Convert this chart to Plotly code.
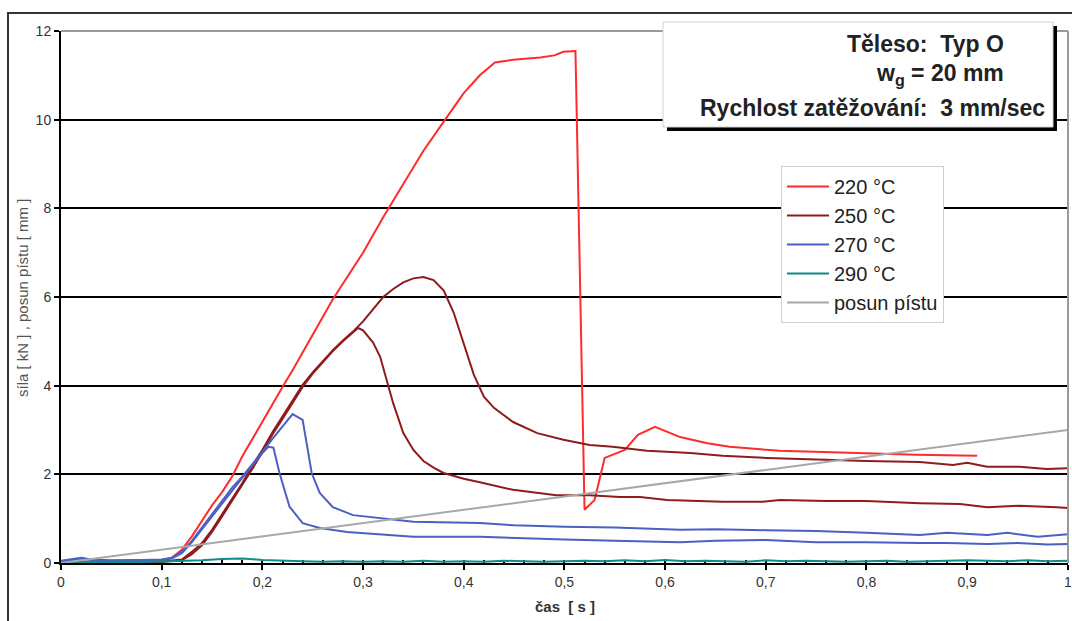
import plotly.graph_objects as go

W, H = 1072, 621
L, R, T, B = 61, 1068, 31, 563

# ---- data ----
x_ticks = [0, 0.1, 0.2, 0.3, 0.4, 0.5, 0.6, 0.7, 0.8, 0.9, 1.0]
x_ticklabels = ["0", "0,1", "0,2", "0,3", "0,4", "0,5", "0,6", "0,7", "0,8", "0,9", "1"]
y_ticks = [0, 2, 4, 6, 8, 10, 12]

t220 = [0, 0.02, 0.04, 0.06, 0.08, 0.10, 0.11, 0.12, 0.13, 0.14, 0.15, 0.16, 0.17, 0.18, 0.19, 0.20,
        0.21, 0.22, 0.23, 0.24, 0.25, 0.26, 0.27, 0.28, 0.29, 0.30, 0.32, 0.34, 0.36, 0.38, 0.40,
        0.416, 0.431, 0.449, 0.476, 0.49, 0.499, 0.511, 0.520, 0.530, 0.540, 0.560, 0.573, 0.590,
        0.615, 0.642, 0.664, 0.714, 0.76, 0.80, 0.85, 0.91]
f220 = [0.02, 0.03, 0.03, 0.04, 0.04, 0.06, 0.12, 0.3, 0.6, 0.95, 1.3, 1.6, 1.95, 2.4, 2.8, 3.2,
        3.6, 3.97, 4.35, 4.75, 5.15, 5.55, 5.95, 6.3, 6.65, 7.0, 7.8, 8.55, 9.3, 9.95, 10.6,
        11.0, 11.29, 11.35, 11.4, 11.45, 11.53, 11.55, 1.2, 1.42, 2.37, 2.55, 2.89, 3.07,
        2.84, 2.7, 2.62, 2.53, 2.5, 2.47, 2.44, 2.42]

t250a = [0, 0.05, 0.10, 0.12, 0.13, 0.14, 0.15, 0.16, 0.17, 0.18, 0.19, 0.20, 0.21, 0.22, 0.23, 0.24,
         0.25, 0.26, 0.27, 0.28, 0.29, 0.30, 0.31, 0.32, 0.33, 0.34, 0.35, 0.36, 0.37, 0.38, 0.39,
         0.40, 0.41, 0.42, 0.43, 0.449, 0.473, 0.499, 0.525, 0.548, 0.582, 0.625, 0.657, 0.701,
         0.75, 0.80, 0.853, 0.886, 0.90, 0.92, 0.952, 0.979, 1.0]
f250a = [0.02, 0.02, 0.03, 0.08, 0.25, 0.45, 0.75, 1.1, 1.45, 1.8, 2.2, 2.55, 2.95, 3.3, 3.68, 4.02,
         4.3, 4.55, 4.8, 5.02, 5.22, 5.45, 5.73, 6.0, 6.18, 6.33, 6.42, 6.45, 6.38, 6.15, 5.65,
         4.95, 4.25, 3.75, 3.5, 3.18, 2.93, 2.78, 2.66, 2.62, 2.53, 2.48, 2.42, 2.37,
         2.33, 2.3, 2.28, 2.21, 2.26, 2.17, 2.17, 2.12, 2.14]

t250b = [0, 0.05, 0.10, 0.12, 0.13, 0.14, 0.15, 0.16, 0.17, 0.18, 0.19, 0.20, 0.21, 0.22, 0.23, 0.24,
         0.25, 0.26, 0.27, 0.28, 0.29, 0.295, 0.30, 0.31, 0.317, 0.325, 0.33, 0.34, 0.35, 0.36, 0.37,
         0.38, 0.39, 0.40, 0.416, 0.449, 0.492, 0.525, 0.555, 0.575, 0.602, 0.657, 0.697, 0.714,
         0.76, 0.80, 0.853, 0.893, 0.92, 0.952, 0.989, 1.0]
f250b = [0.02, 0.02, 0.03, 0.06, 0.2, 0.4, 0.7, 1.05, 1.4, 1.75, 2.12, 2.5, 2.9, 3.25, 3.62, 3.97,
         4.27, 4.53, 4.78, 5.0, 5.2, 5.3, 5.25, 4.97, 4.65, 4.0, 3.6, 2.93, 2.55, 2.3, 2.15,
         2.03, 1.96, 1.9, 1.82, 1.65, 1.53, 1.53, 1.49, 1.49, 1.42, 1.38, 1.38, 1.42,
         1.4, 1.4, 1.35, 1.33, 1.26, 1.29, 1.26, 1.24]

t270a = [0, 0.01, 0.02, 0.03, 0.05, 0.08, 0.10, 0.11, 0.12, 0.13, 0.14, 0.15, 0.16, 0.17, 0.18,
         0.19, 0.20, 0.21, 0.22, 0.23, 0.24, 0.249, 0.257, 0.27, 0.29, 0.317, 0.35, 0.416, 0.45,
         0.5, 0.55, 0.615, 0.65, 0.70, 0.75, 0.80, 0.853, 0.88, 0.92, 0.94, 0.97, 1.0]
f270a = [0.05, 0.08, 0.12, 0.08, 0.06, 0.07, 0.08, 0.12, 0.25, 0.5, 0.8, 1.1, 1.4, 1.7, 1.95,
         2.22, 2.5, 2.8, 3.08, 3.36, 3.23, 2.03, 1.58, 1.26, 1.08, 1.02, 0.93, 0.9, 0.85,
         0.82, 0.8, 0.75, 0.76, 0.74, 0.72, 0.68, 0.63, 0.68, 0.63, 0.68, 0.59, 0.65]

t270b = [0, 0.01, 0.02, 0.03, 0.05, 0.08, 0.10, 0.11, 0.12, 0.13, 0.14, 0.15, 0.16, 0.17, 0.18,
         0.19, 0.20, 0.206, 0.211, 0.217, 0.227, 0.24, 0.257, 0.284, 0.35, 0.416, 0.45, 0.5, 0.55,
         0.615, 0.65, 0.70, 0.75, 0.80, 0.853, 0.88, 0.92, 0.95, 0.98, 1.0]
f270b = [0.04, 0.06, 0.1, 0.07, 0.05, 0.06, 0.07, 0.1, 0.22, 0.47, 0.76, 1.05, 1.35, 1.65, 1.92,
         2.2, 2.48, 2.62, 2.6, 2.03, 1.27, 0.9, 0.79, 0.7, 0.59, 0.59, 0.56, 0.53, 0.5,
         0.47, 0.5, 0.52, 0.47, 0.47, 0.45, 0.45, 0.43, 0.45, 0.42, 0.43]

t290 = [0, 0.02, 0.04, 0.06, 0.08, 0.10, 0.12, 0.14, 0.16, 0.18, 0.20, 0.22, 0.24, 0.26, 0.28,
        0.30, 0.32, 0.34, 0.36, 0.38, 0.40, 0.42, 0.44, 0.46, 0.48, 0.50, 0.52, 0.54, 0.56, 0.58,
        0.60, 0.62, 0.64, 0.66, 0.68, 0.70, 0.72, 0.74, 0.76, 0.78, 0.80, 0.82, 0.84, 0.86, 0.88,
        0.90, 0.92, 0.94, 0.96, 0.98, 1.0]
f290 = [0.02, 0.03, 0.02, 0.03, 0.02, 0.03, 0.05, 0.06, 0.09, 0.1, 0.07, 0.05, 0.04, 0.03, 0.04,
        0.03, 0.04, 0.03, 0.05, 0.03, 0.04, 0.03, 0.05, 0.04, 0.03, 0.04, 0.05, 0.04, 0.06, 0.04,
        0.07, 0.04, 0.05, 0.04, 0.03, 0.06, 0.04, 0.05, 0.04, 0.03, 0.04, 0.05, 0.03, 0.04, 0.04,
        0.06, 0.05, 0.04, 0.06, 0.04, 0.05]

t_piston = [0, 0.1, 0.2, 0.3, 0.4, 0.5, 0.6, 0.7, 0.8, 0.9, 1.0]
s_piston = [0, 0.3, 0.6, 0.9, 1.2, 1.5, 1.8, 2.1, 2.4, 2.7, 3.0]

C220, C250, C270, C290, CPIST = "#ff2b2b", "#8e1c1c", "#4a60c4", "#0f8c88", "#a8a8a8"

fig = go.Figure()

def add(x, y, name, color, show, group):
    fig.add_trace(go.Scatter(x=x, y=y, mode="lines", name=name, legendgroup=group,
                             showlegend=show, line=dict(color=color, width=2)))

add(t220, f220, "220 °C", C220, True, "220")
add(t250a, f250a, "250 °C", C250, True, "250")
add(t250b, f250b, "250 °C", C250, False, "250")
add(t270a, f270a, "270 °C", C270, True, "270")
add(t270b, f270b, "270 °C", C270, False, "270")
add(t290, f290, "290 °C", C290, True, "290")
add(t_piston, s_piston, "posun pístu", CPIST, True, "p")

def px(xp):
    return (xp - L) / (R - L)

def py(yp):
    return (B - yp) / (B - T)

tick_font = dict(family="Liberation Sans, Arial", size=14, color="#333333")

fig.update_layout(
    width=W, height=H,
    margin=dict(l=L, r=W - R, t=T, b=H - B, autoexpand=False),
    paper_bgcolor="white", plot_bgcolor="white",
    font=dict(family="Liberation Sans, Arial"),
    showlegend=True,
    legend=dict(x=px(781), y=py(166), xanchor="left", yanchor="top",
                bgcolor="white", bordercolor="#cfcfcf", borderwidth=1,
                font=dict(family="Liberation Sans, Arial", size=20, color="#222222"),
                tracegroupgap=0, itemwidth=42),
    xaxis=dict(range=[0, 1.0002], tickvals=x_ticks, ticktext=x_ticklabels, tickfont=tick_font,
               showgrid=False, zeroline=False, showline=True, linecolor="black", linewidth=2,
               ticks="outside", ticklen=5, tickcolor="black", tickwidth=1.5,
               ticklabeloverflow="allow", automargin=False,
               minor=dict(dtick=0.02, ticks="inside", ticklen=3, tickcolor="black", showgrid=False),
               layer="below traces"),
    yaxis=dict(range=[0, 12], tickvals=y_ticks, tickfont=tick_font,
               showgrid=True, gridcolor="black", gridwidth=1.5, zeroline=False,
               showline=True, linecolor="black", linewidth=2, automargin=False,
               ticks="outside", ticklen=5, tickcolor="black", tickwidth=1.5,
               layer="below traces"),
)

shapes = []
# outer chart frame (extends beyond visible area)
shapes.append(dict(type="rect", xref="paper", yref="paper", x0=px(8), x1=px(1090),
                   y0=py(660), y1=py(13), line=dict(color="#333333", width=2),
                   fillcolor="rgba(0,0,0,0)", layer="above"))
# plot border top & right in gray
shapes.append(dict(type="line", xref="paper", yref="paper", x0=0, x1=1, y0=1, y1=1,
                   line=dict(color="#9a9a9a", width=2), layer="above"))
shapes.append(dict(type="line", xref="paper", yref="paper", x0=1, x1=1, y0=0, y1=1,
                   line=dict(color="#9a9a9a", width=2), layer="above"))
# info box shadow and box
shapes.append(dict(type="rect", xref="paper", yref="paper", x0=px(667), x1=px(1057),
                   y0=py(131), y1=py(26), line=dict(width=0), fillcolor="black", layer="above"))
shapes.append(dict(type="rect", xref="paper", yref="paper", x0=px(663), x1=px(1053),
                   y0=py(127), y1=py(22), line=dict(color="#d0d0d0", width=1),
                   fillcolor="white", layer="above"))
fig.update_layout(shapes=shapes)

bold = dict(family="Liberation Sans, Arial", size=23, color="#222222")
anns = [
    dict(text="<b>Těleso:\u00a0 Typ O</b>", x=px(1006), y=py(44), xanchor="right", yanchor="middle"),
    dict(text="<b>w<sub>g</sub> = 20 mm</b>", x=px(1006), y=py(74), xanchor="right", yanchor="middle"),
    dict(text="<b>Rychlost zatěžování:\u00a0 3 mm/sec</b>", x=px(1047), y=py(108),
         xanchor="right", yanchor="middle"),
]
for a in anns:
    fig.add_annotation(xref="paper", yref="paper", showarrow=False, font=bold, **a)

fig.add_annotation(text="síla [ kN ] , posun pístu [ mm ]", xref="paper", yref="paper",
                   x=px(22), y=py(298), textangle=-90, showarrow=False,
                   xanchor="center", yanchor="middle",
                   font=dict(family="Liberation Sans, Arial", size=15, color="#555555"))
fig.add_annotation(text="<b>čas\u00a0 [ s ]</b>", xref="paper", yref="paper",
                   x=px(565), y=py(606), showarrow=False, xanchor="center", yanchor="middle",
                   font=dict(family="Liberation Sans, Arial", size=15, color="#333333"))

fig.write_html("out.html")
